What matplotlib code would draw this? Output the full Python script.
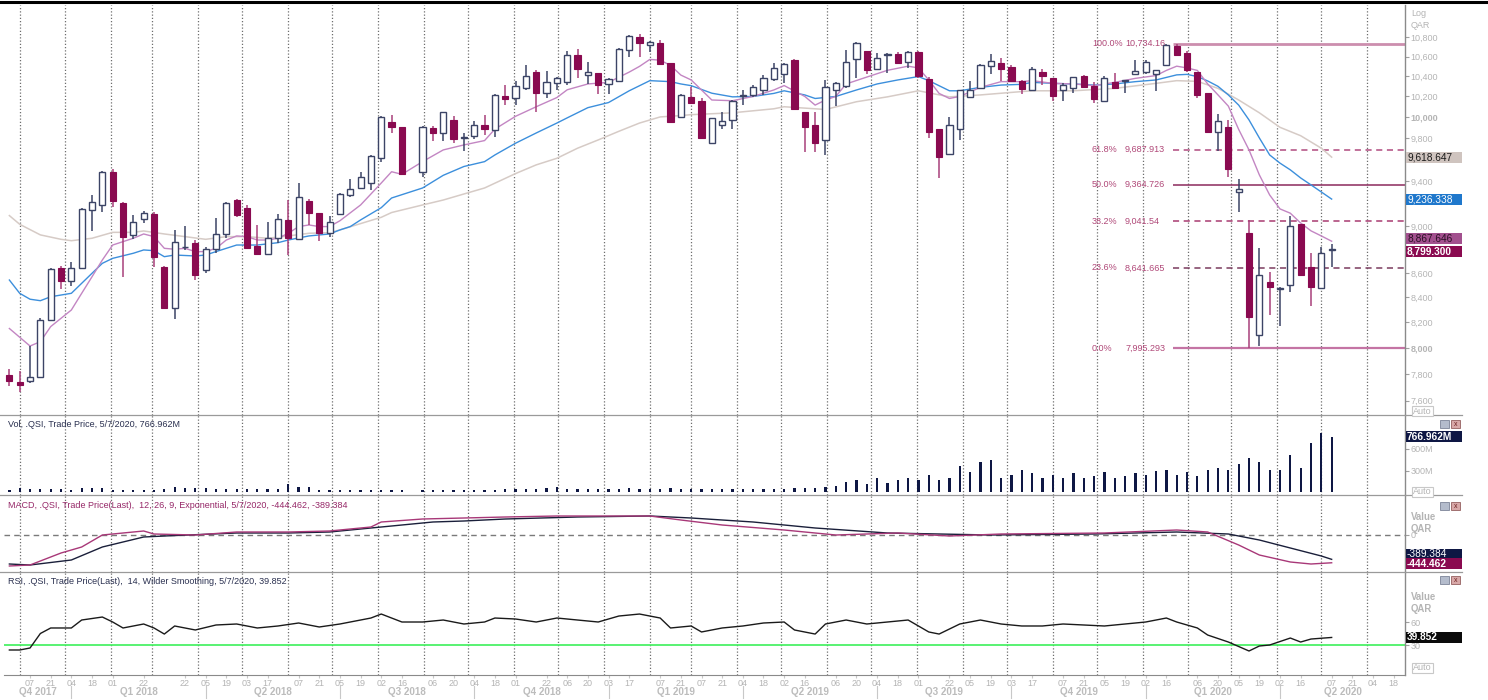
import numpy as np
import pandas as pd
import matplotlib

matplotlib.use("Agg")
import matplotlib.pyplot as plt
from matplotlib.lines import Line2D
from matplotlib.patches import Rectangle
from matplotlib.ticker import FixedLocator, NullLocator

plt.rcParams["font.family"] = ["Liberation Sans", "DejaVu Sans"]

# ------------------------------------------------------------------ data ---
START = "2017-11-23"          # first weekly bar (Thursday)
nan = np.nan

opens = [7791, 7739, 7747, 7777, 8217, 8638, 8535, 8638, 9143, 9184,
         9479, 9204, 8922, 9063, 9105, 8652, 8311, 8815, 8849, 8624,
         8801, 8930, 9228, 9154, 8825, 8758, 8893, 9052, 8884, 9222,
         9111, 8941, 9105, 9272, 9336, 9385, 9613, 9951, 9899, nan,
         9486, 9897, 9842, 9971, 9797, 9815, 9924, 9878, 10204, 10180,
         10282, 10443, 10230, 10330, 10348, 10618, 10415, 10433, 10324, 10350,
         10669, 10800, 10720, 10736, 10536, 10004, 10194, 10153, 9747, 9922,
         9971, 10200, 10214, 10264, 10374, 10425, 10567, 10043, 9924, 9780,
         10265, 10305, 10572, 10660, 10476, 10615, 10625, 10545, 10650, 10378,
         9880, 9647, 9880, 10190, 10282, 10500, 10535, 10490, 10354, 10264,
         10440, 10386, 10260, 10284, 10400, 10305, 10160, 10346, 10350, 10420,
         10440, 10420, 10518, 10715, 10640, 10445, 10238, 9855, 9905, 9303,
         8940, 8100, 8527, 8470, 8500, 9017, 8652, 8472, 8793]
highs = [7837, 7822, 8013, 8230, 8640, 8660, 8693, 9155, 9273, 9494,
         9509, 9213, 9096, 9131, 9126, 8660, 8965, 9003, 8878, 8816,
         9067, 9210, 9240, 9180, 9008, 9031, 9105, 9228, 9385, 9240,
         9111, 9090, 9290, 9420, 9486, 9643, 10010, 10022, 9905, nan,
         9915, 9915, 10051, 10013, 9850, 9963, 10022, 10221, 10314, 10357,
         10520, 10460, 10453, 10398, 10660, 10676, 10547, 10433, 10384, 10690,
         10820, 10840, 10760, 10773, 10540, 10221, 10292, 10187, 9993, 10043,
         10165, 10265, 10314, 10415, 10536, 10536, 10578, 10043, 10043, 10364,
         10340, 10669, 10750, 10660, 10636, 10636, 10650, 10655, 10660, 10390,
         9880, 9995, 10264, 10354, 10525, 10625, 10590, 10510, 10365, 10490,
         10470, 10386, 10330, 10398, 10410, 10345, 10400, 10430, 10364, 10567,
         10570, 10465, 10730, 10734.16, 10660, 10445, 10238, 10033, 9970, 9420,
         9055, 8812, 8610, 8486, 9087, 9017, 8770, 8820, 8847]
lows = [7710, 7665, 7735, 7770, 8217, 8465, 8490, 8630, 8954, 9122,
        9170, 8568, 8884, 9023, 8652, 8305, 8222, 8793, 8541, 8602,
        8770, 8895, 9080, 8805, 8750, 8750, 8852, 8750, 8878, 9008,
        8872, 8900, 9100, 9258, 9327, 9319, 9570, 9846, 9450, nan,
        9440, 9773, 9773, 9755, 9679, 9791, 9825, 9810, 10120, 10112,
        10265, 10043, 10186, 10264, 10314, 10381, 10324, 10224, 10224, 10350,
        10600, 10600, 10650, 10515, 9940, 9995, 10137, 9790, 9740, 9880,
        9880, 10120, 10190, 10214, 10356, 10330, 10064, 9670, 9665, 9640,
        10105, 10280, 10380, 10420, 10465, 10430, 10536, 10480, 10380, 9797,
        9430, 9647, 9778, 10184, 10270, 10420, 10354, 10354, 10220, 10250,
        10310, 10160, 10160, 10235, 10280, 10140, 10150, 10280, 10235, 10420,
        10420, 10250, 10505, 10620, 10445, 10187, 9843, 9674, 9440, 9125,
        7995.293, 8013, 8255, 8173, 8445, 8583, 8330, 8472, 8652]
closes = [7747, 7717, 7777, 8217, 8630, 8535, 8638, 9149, 9210, 9485,
          9222, 8901, 9035, 9111, 8737, 8311, 8858, 8822, 8583, 8801,
          8928, 9204, 9096, 8813, 8758, 8893, 9061, 8893, 9252, 9111,
          8941, 9032, 9280, 9330, 9434, 9633, 10004, 9902, 9460, nan,
          9902, 9842, 10045, 9787, 9805, 9924, 9881, 10214, 10170, 10305,
          10403, 10230, 10348, 10381, 10618, 10474, 10443, 10314, 10374, 10680,
          10816, 10736, 10750, 10525, 9955, 10214, 10137, 9799, 9987, 9964,
          10158, 10214, 10292, 10381, 10484, 10525, 10074, 9905, 9751, 10289,
          10330, 10547, 10745, 10460, 10583, 10632, 10536, 10650, 10405, 9858,
          9620, 9927, 10264, 10264, 10514, 10560, 10470, 10354, 10270, 10478,
          10405, 10200, 10310, 10398, 10295, 10170, 10380, 10280, 10360, 10455,
          10545, 10465, 10725, 10620, 10465, 10210, 9858, 9958, 9505, 9325,
          8243, 8583, 8486, 8475, 9002, 8583, 8486, 8770, 8799.3]
# volume, millions
volume = [35, 55, 45, 45, 45, 45, 30, 60, 60, 60,
          37, 30, 30, 30, 40, 50, 80, 65, 65, 55,
          45, 45, 45, 45, 45, 45, 45, 110, 70, 70,
          30, 40, 40, 40, 40, 40, 40, 40, 30, nan,
          40, 40, 40, 40, 40, 40, 40, 40, 45, 45,
          50, 50, 60, 70, 50, 50, 50, 50, 50, 50,
          60, 50, 50, 50, 60, 50, 50, 50, 50, 50,
          50, 45, 45, 45, 45, 50, 60, 60, 60, 70,
          90, 144, 171, 116, 199, 130, 171, 199, 171, 240,
          171, 199, 365, 282, 420, 448, 199, 240, 310, 268,
          199, 240, 199, 268, 199, 227, 282, 199, 227, 268,
          240, 296, 310, 240, 282, 227, 310, 337, 310, 393,
          476, 420, 310, 310, 517, 337, 683, 821, 766.962]

# moving averages (week index -> value)
ma_fast_idx = [0, 2, 3, 4, 6, 7, 8, 9, 10, 12, 13, 14, 15, 16, 17, 18, 19, 20,
               21, 22, 23, 24, 25, 26, 27, 28, 29, 30, 31, 32, 34, 36, 37, 38,
               40, 42, 44, 46, 47, 49, 51, 53, 54, 56, 58, 60, 61, 62, 63, 64,
               65, 66, 68, 70, 72, 74, 75, 77, 78, 79, 80, 81, 83, 85, 87, 88,
               89, 90, 91, 92, 94, 96, 98, 99, 101, 103, 105, 107, 109, 111,
               112, 113, 114, 115, 116, 117, 118, 119, 120, 121, 122, 123, 124,
               125, 126, 127, 128]
ma_fast = [8150, 8013, 8047, 8165, 8297, 8432, 8568, 8708, 8835, 8893, 8930,
           8907, 8807, 8799, 8807, 8779, 8779, 8807, 8878, 8913, 8907, 8878,
           8878, 8893, 8936, 8994, 9008, 8994, 8994, 9045, 9184, 9381, 9484,
           9460, 9577, 9686, 9733, 9774, 9883, 10006, 10099, 10189, 10266,
           10324, 10340, 10443, 10501, 10572, 10564, 10511, 10413, 10364,
           10165, 10158, 10200, 10264, 10308, 10200, 10115, 10165, 10200,
           10324, 10393, 10461, 10503, 10485, 10364, 10230, 10180, 10200,
           10290, 10347, 10347, 10357, 10330, 10324, 10307, 10340, 10380,
           10408, 10460, 10503, 10485, 10460, 10324, 10215, 10105, 9880, 9686,
           9455, 9273, 9149, 9111, 9025, 8957, 8913, 8867.646]
ma_mid_idx = [0, 1, 2, 3, 4, 6, 7, 8, 9, 10, 12, 13, 14, 15, 16, 18, 19, 20,
              22, 24, 26, 27, 29, 31, 32, 33, 34, 36, 37, 40, 42, 44, 46, 47,
              49, 51, 53, 54, 56, 58, 60, 62, 64, 65, 66, 68, 70, 72, 74, 75,
              77, 78, 80, 82, 84, 86, 88, 89, 91, 92, 94, 96, 98, 99, 101, 103,
              105, 107, 109, 111, 113, 114, 115, 116, 117, 118, 119, 120, 121,
              122, 123, 124, 125, 126, 127, 128]
ma_mid = [8541, 8432, 8384, 8372, 8404, 8432, 8514, 8597, 8680, 8722, 8765,
          8793, 8787, 8736, 8750, 8742, 8750, 8779, 8835, 8835, 8855, 8878,
          8913, 8930, 8965, 8994, 9052, 9160, 9246, 9336, 9451, 9532, 9577,
          9639, 9749, 9846, 9941, 9991, 10090, 10140, 10256, 10357, 10347,
          10324, 10307, 10232, 10196, 10200, 10230, 10256, 10215, 10180,
          10200, 10264, 10324, 10364, 10398, 10357, 10256, 10256, 10290,
          10313, 10320, 10340, 10330, 10324, 10313, 10324, 10347, 10364,
          10415, 10420, 10398, 10354, 10300, 10215, 10115, 9971, 9799, 9639,
          9563, 9501, 9427, 9364, 9300, 9236.338]
ma_slow_idx = [0, 1, 3, 5, 6, 8, 10, 12, 13, 15, 17, 19, 21, 23, 25, 27, 29,
               31, 32, 34, 36, 37, 40, 42, 44, 46, 49, 51, 53, 55, 57, 59, 61,
               63, 65, 66, 70, 74, 75, 78, 79, 82, 85, 88, 91, 94, 97, 99, 103,
               107, 111, 113, 115, 117, 119, 121, 123, 125, 127, 128]
ma_slow = [9090, 9014, 8922, 8884, 8872, 8893, 8944, 8944, 8956, 8930, 8907,
           8884, 8907, 8907, 8893, 8913, 8936, 8941, 8965, 9020, 9075, 9117,
           9184, 9228, 9282, 9336, 9467, 9547, 9608, 9702, 9780, 9862, 9941,
           10000, 10013, 10022, 10040, 10079, 10099, 10079, 10072, 10148,
           10196, 10256, 10196, 10215, 10240, 10256, 10256, 10280, 10330,
           10357, 10350, 10280, 10165, 10040, 9900, 9820, 9702, 9618.647]

fib_pcts = ["100.0%", "61.8%", "50.0%", "38.2%", "23.6%", "0.0%"]
fib_levels = [10734.16, 9687.913, 9364.726, 9041.54, 8641.665, 7995.293]
fib_texts = ["10,734.16", "9,687.913", "9,364.726", "9,041.54", "8,641.665",
             "7,995.293"]

macd_idx = [0, 2, 5, 7, 9, 13, 14, 18, 22, 27, 31, 35, 36, 40, 44, 48, 53, 58,
            62, 65, 69, 75, 80, 86, 91, 96, 106, 113, 116, 119, 121, 124, 126,
            128]
macd = [-496, -480, -288, -192, 0, 64, 16, 0, 48, 48, 64, 128, 208, 256, 272,
        288, 304, 304, 304, 240, 160, 80, 0, 32, -16, 16, 32, 80, 48, -160,
        -320, -432, -464, -444.462]
signal_idx = [0, 2, 6, 9, 13, 15, 22, 27, 31, 38, 41, 44, 48, 55, 62, 66, 72,
              78, 85, 95, 105, 113, 118, 121, 124, 127, 128]
signal = [-464, -480, -400, -192, -32, -16, 32, 32, 48, 160, 208, 224, 256,
          288, 304, 272, 208, 112, 32, 0, 16, 48, 16, -80, -208, -336,
          -389.384]

rsi_idx = [0, 1, 2, 3, 4, 6, 7, 9, 10, 11, 13, 14, 15, 16, 18, 20, 22, 24, 26,
           28, 30, 32, 35, 36, 38, 40, 42, 44, 46, 47, 49, 51, 53, 55, 57, 59,
           61, 63, 64, 66, 67, 69, 71, 73, 75, 76, 78, 79, 81, 83, 85, 87, 89,
           90, 92, 94, 96, 98, 100, 102, 104, 106, 107, 110, 112, 113, 115,
           116, 118, 120, 121, 122, 124, 125, 126, 128]
rsi = [23.5, 23.5, 26.1, 45, 52.2, 52.2, 62.6, 66.5, 60, 52.2, 57.4, 52.2,
       44.3, 54.8, 49.6, 56.1, 57.4, 52.2, 54.8, 58.7, 53.5, 57.4, 65.2, 70.4,
       60, 60, 62.6, 57.4, 60, 65.2, 63.9, 60, 65.2, 62.6, 60, 67.8, 70.4,
       65.2, 52.2, 54.8, 47, 52.2, 54.8, 58.7, 60, 49.6, 44.3, 57.4, 62.6,
       57.4, 60, 62.6, 47, 44.3, 57.4, 62.6, 57.4, 54.8, 54.8, 57.4, 56.1,
       54.8, 56.1, 60, 65.2, 60, 52.2, 43, 33.9, 22.2, 28.7, 30, 39.1, 33.9,
       37.8, 39.852]

price_ticks = [7600, 7800, 8000, 8200, 8400, 8600, 8800, 9000, 9200, 9400,
               9600, 9800, 10000, 10200, 10400, 10600, 10800]
hidden_price_labels = [8800, 9200, 9600]   # covered by the value boxes

date_ticks = ["2017-12-07", "2017-12-21", "2018-01-04", "2018-01-18",
              "2018-02-01", "2018-02-22", "2018-03-22", "2018-04-05",
              "2018-04-19", "2018-05-03", "2018-05-17", "2018-06-07",
              "2018-06-21", "2018-07-05", "2018-07-19", "2018-08-02",
              "2018-08-16", "2018-09-06", "2018-09-20", "2018-10-04",
              "2018-10-18", "2018-11-01", "2018-11-22", "2018-12-06",
              "2018-12-20", "2019-01-03", "2019-01-17", "2019-02-07",
              "2019-02-21", "2019-03-07", "2019-03-21", "2019-04-04",
              "2019-04-18", "2019-05-02", "2019-05-16", "2019-06-06",
              "2019-06-20", "2019-07-04", "2019-07-18", "2019-08-01",
              "2019-08-22", "2019-09-05", "2019-09-19", "2019-10-03",
              "2019-10-17", "2019-11-07", "2019-11-21", "2019-12-05",
              "2019-12-19", "2020-01-02", "2020-01-16", "2020-02-06",
              "2020-02-20", "2020-03-05", "2020-03-19", "2020-04-02",
              "2020-04-16", "2020-05-07", "2020-05-21", "2020-06-04",
              "2020-06-18"]
quarter_starts = ["2018-01-04", "2018-04-05", "2018-07-05", "2018-10-04",
                  "2019-01-03", "2019-04-04", "2019-07-04", "2019-10-03",
                  "2020-01-02", "2020-04-02"]
quarter_names = ["Q4 2017", "Q1 2018", "Q2 2018", "Q3 2018", "Q4 2018",
                 "Q1 2019", "Q2 2019", "Q3 2019", "Q4 2019", "Q1 2020",
                 "Q2 2020"]

# ---------------------------------------------------------------- layout ---
W, H = 1488, 700
XMIN, XMAX = -0.52, 135.1
FS = 6.5
GREY_TXT = "#b4b4b4"
BULL_EDGE = "#3c4466"
BEAR = "#8a0a50"
BEAR_WICK = "#a8407a"


def widx(d):
    return (pd.Timestamp(d) - pd.Timestamp(START)).days / 7.0


def fx(px):
    return px / W


def fy(py):
    return 1 - py / H


fig = plt.figure(figsize=(W / 100, H / 100), dpi=100)


def panel(top, bottom):
    return fig.add_axes([fx(4), fy(bottom), fx(1405) - fx(4), fy(top) - fy(bottom)])


ax_p = panel(5, 415)
ax_v = panel(415, 495)
ax_m = panel(495, 572)
ax_r = panel(572, 675)
axes = [ax_p, ax_v, ax_m, ax_r]

months = pd.date_range("2017-12-01", "2020-06-01", freq="MS")
for ax in axes:
    ax.set_xlim(XMIN, XMAX)
    for s in ["top", "left", "bottom"]:
        ax.spines[s].set_visible(False)
    ax.spines["right"].set_color("#8a8a8a")
    ax.spines["right"].set_linewidth(1.0)
    ax.yaxis.tick_right()
    ax.tick_params(axis="y", length=3, width=0.8, color="#a0a0a0",
                   labelsize=FS, labelcolor=GREY_TXT, pad=1)
    ax.tick_params(axis="x", bottom=False, labelbottom=False)
    for m in months:
        ax.axvline(widx(m) - 0.15, color="#6e6e6e", lw=0.9,
                   ls=(0, (1, 1.6)), zorder=0)

# ---------------------------------------------------------------- price ---
x = np.arange(len(opens))
o, h, l, c = (np.array(a, float) for a in (opens, highs, lows, closes))
ok = ~np.isnan(o)
up = ok & (c >= o)
dn = ok & (c < o)

ax_p.set_yscale("log")
ax_p.set_ylim(7496, 11143)
ax_p.vlines(x[dn], l[dn], h[dn], color=BEAR_WICK, lw=1.1, zorder=3)
ax_p.vlines(x[up], l[up], h[up], color=BULL_EDGE, lw=1.1, zorder=3)
ax_p.bar(x[dn], (o - c)[dn], bottom=c[dn], width=0.6, color=BEAR,
         edgecolor=BEAR, lw=0.8, zorder=4)
ax_p.bar(x[up], np.maximum((c - o)[up], 4), bottom=o[up], width=0.6,
         color="white", edgecolor=BULL_EDGE, lw=1.0, zorder=4)

ax_p.plot(ma_slow_idx, ma_slow, color="#d6cbc6", lw=1.1, zorder=2)
ax_p.plot(ma_mid_idx, ma_mid, color="#3c8fdc", lw=1.0, zorder=2)
ax_p.plot(ma_fast_idx, ma_fast, color="#c386c3", lw=1.0, zorder=2)

fib_style = {
    "100.0%": dict(color="#cc8eae", lw=2.0, ls="-"),
    "61.8%": dict(color="#b04a7e", lw=1.1, ls=(0, (4, 3))),
    "50.0%": dict(color="#8c2a5c", lw=1.1, ls="-"),
    "38.2%": dict(color="#a83a70", lw=1.1, ls=(0, (4, 3))),
    "23.6%": dict(color="#7a3a5e", lw=1.1, ls=(0, (4, 3))),
    "0.0%": dict(color="#c474a4", lw=1.6, ls="-"),
}
for pct, lev, txt in zip(fib_pcts, fib_levels, fib_texts):
    ax_p.hlines(lev, 112.6, XMAX, zorder=1, **fib_style[pct])
    ax_p.text(104.8, lev, pct, fontsize=FS, color="#b04878", va="center")
    ax_p.text(108.0, lev, txt, fontsize=FS, color="#b04878", va="center")

ax_p.yaxis.set_major_locator(FixedLocator(price_ticks))
ax_p.yaxis.set_minor_locator(NullLocator())
ax_p.set_yticklabels(["" if t in hidden_price_labels else f"{t:,}"
                      for t in price_ticks])
for t in ax_p.get_yticklabels():
    if t.get_text() in ("10,000", "8,000"):
        t.set_fontweight("bold")

# --------------------------------------------------------------- volume ---
v = np.array(volume, float)
ax_v.set_ylim(-36, 1070)
ax_v.bar(x[ok], v[ok], width=0.22, color="#0e1744", zorder=3)
ax_v.set_yticks([300, 600])
ax_v.set_yticklabels(["300M", "600M"])

# ----------------------------------------------------------------- MACD ---
ax_m.set_ylim(-592, 640)
ax_m.axhline(0, color="#7a7a7a", lw=1.0, ls=(0, (4, 3)), zorder=1)
ax_m.plot(signal_idx, signal, color="#1a1f3a", lw=1.0, zorder=3)
ax_m.plot(macd_idx, macd, color="#a83878", lw=1.0, zorder=3)
ax_m.set_yticks([0])
ax_m.set_yticklabels(["0"])

# ------------------------------------------------------------------ RSI ---
ax_r.set_ylim(-9.1, 125.2)
ax_r.axhline(30, color="#3cf05a", lw=1.2, zorder=2)
ax_r.plot(rsi_idx, rsi, color="#1a1a1a", lw=1.0, zorder=3)
ax_r.set_yticks([30, 60])

# date axis
ax_r.spines["bottom"].set_visible(True)
ax_r.spines["bottom"].set_color("#8a8a8a")
ax_r.set_xticks([widx(d) for d in date_ticks])
ax_r.set_xticklabels([pd.Timestamp(d).strftime("%d") for d in date_ticks])
ax_r.tick_params(axis="x", bottom=True, labelbottom=True, length=2,
                 color="#c8c8c8", labelsize=FS, labelcolor=GREY_TXT, pad=1)

bounds = [XMIN] + [widx(d) for d in quarter_starts] + [XMAX]
for i, name in enumerate(quarter_names):
    xm = (bounds[i] + bounds[i + 1]) / 2
    ax_r.text(xm, -0.165, name, transform=ax_r.get_xaxis_transform(),
              ha="center", va="center", fontsize=FS + 0.6, fontweight="bold",
              color="#bcbcbc", clip_on=False)
for d in quarter_starts:
    ax_r.plot([widx(d)] * 2, [-0.11, -0.22], transform=ax_r.get_xaxis_transform(),
              color="#c8c8c8", lw=0.8, clip_on=False)


# ------------------------------------------------- last-value label boxes ---
def value_box(ax, val, text, fc, tc, dy=0, bold=False):
    """Coloured tag on the right axis, 1406..1462 px wide, centred on val."""
    py = H - ax.transData.transform((0, val))[1] - dy   # pixel from top
    fig.add_artist(Rectangle((fx(1406), fy(py + 5.5)), fx(56), 11 / H,
                             fc=fc, ec="none", zorder=10))
    fig.text(fx(1407), fy(py), text, fontsize=FS + 0.8, color=tc,
             ha="left", va="center", zorder=11,
             fontweight="bold" if bold else "normal")


value_box(ax_p, 9618.647, "9,618.647", "#cfc4bf", "#1a1a1a")
value_box(ax_p, 9236.338, "9,236.338", "#1f78cc", "white")
value_box(ax_p, 8867.646, "8,867.646", "#a2508e", "#2a1024", dy=3)
value_box(ax_p, 8799.3, "8,799.300", "#8a0a50", "white", dy=-2, bold=True)
value_box(ax_v, 766.962, "766.962M", "#0e1744", "white", bold=True)
value_box(ax_m, -389.384, "-389.384", "#0e1744", "white", dy=5)
value_box(ax_m, -444.462, "-444.462", "#8a0a50", "white", dy=-1, bold=True)
value_box(ax_r, 39.852, "39.852", "#0a0a0a", "white", bold=True)

# ------------------------------------------------------ frame decoration ---
fig.add_artist(Line2D([0, 1], [fy(2), fy(2)], color="black", lw=2.2))
for py in (415, 495, 572):
    fig.add_artist(Line2D([0, fx(1462)], [fy(py), fy(py)], color="#9a9a9a", lw=0.9))

for txt, py in (("Log", 13), ("QAR", 25)):
    fig.text(fx(1411), fy(py), txt, fontsize=FS, color=GREY_TXT, va="center")
for txt, py in (("Value", 517), ("QAR", 529), ("Value", 597), ("QAR", 609)):
    fig.text(fx(1411), fy(py), txt, fontsize=FS + 0.4, color=GREY_TXT,
             va="center", fontweight="bold")
for py in (411, 492, 668):
    fig.text(fx(1413), fy(py), "Auto", fontsize=FS, color=GREY_TXT, va="center",
             bbox=dict(boxstyle="square,pad=0.1", fc="white", ec="#c8c8c8", lw=0.8))

fig.text(fx(8), fy(424), "Vol, .QSI, Trade Price, 5/7/2020, 766.962M",
         fontsize=FS, color="#2a3050", va="center")
fig.text(fx(8), fy(505),
         "MACD, .QSI, Trade Price(Last),  12, 26, 9, Exponential, 5/7/2020, -444.462, -389.384",
         fontsize=FS, color="#962868", va="center")
fig.text(fx(8), fy(581),
         "RSI, .QSI, Trade Price(Last),  14, Wilder Smoothing, 5/7/2020, 39.852",
         fontsize=FS, color="#2a3050", va="center")

# little window buttons on each sub-panel
for py in (420, 502, 576):
    fig.add_artist(Rectangle((fx(1440), fy(py + 8)), fx(9), 8 / H,
                             fc="#b4bccc", ec="#7c8498", lw=0.6))
    fig.add_artist(Rectangle((fx(1451), fy(py + 8)), fx(9), 8 / H,
                             fc="#d8a8a8", ec="#946060", lw=0.6))
    fig.text(fx(1455.5), fy(py + 4), "x", fontsize=5, color="#6a2020",
             ha="center", va="center")

fig.savefig("out.png", dpi=100)
